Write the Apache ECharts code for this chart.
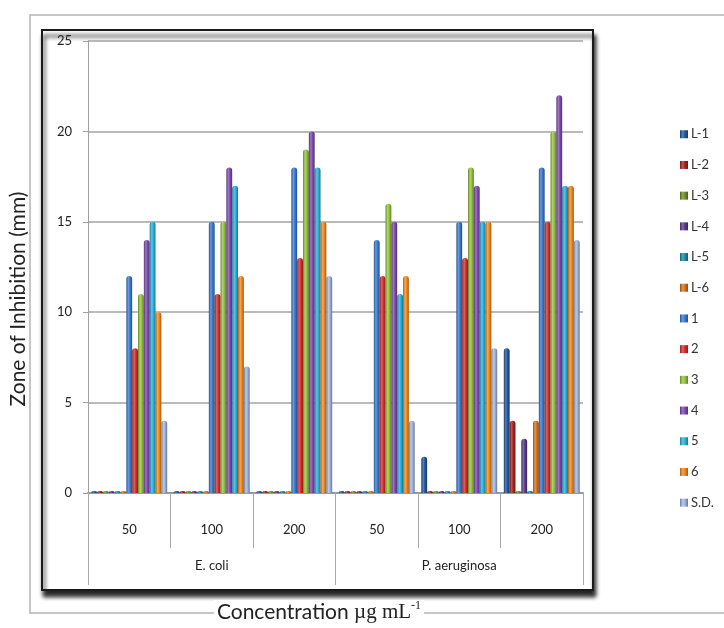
<!DOCTYPE html>
<html>
<head>
<meta charset="utf-8">
<script src="https://cdn.jsdelivr.net/npm/echarts@6/dist/echarts.min.js"></script>
<style>
html,body{margin:0;padding:0;background:#fff;}
#chart{width:724px;height:628px;}
</style>
</head>
<body>
<div id="chart"></div>
<script>
const concentrations = ['50','100','200','50','100','200'];
const organisms = ['E. coli','P. aeruginosa'];
const seriesNames = ['L-1','L-2','L-3','L-4','L-5','L-6','1','2','3','4','5','6','S.D.'];
const L1 = [0,0,0,0,2,8];
const L2 = [0,0,0,0,0,4];
const L3 = [0,0,0,0,0,0];
const L4 = [0,0,0,0,0,3];
const L5 = [0,0,0,0,0,0];
const L6 = [0,0,0,0,0,4];
const C1 = [12,15,18,14,15,18];
const C2 = [8,11,13,12,13,15];
const C3 = [11,15,19,16,18,20];
const C4 = [14,18,20,15,17,22];
const C5 = [15,17,18,11,15,17];
const C6 = [10,12,15,12,15,17];
const SD = [4,7,12,4,8,14];
const yTicks = [0,5,10,15,20,25];

const seriesData = [L1,L2,L3,L4,L5,L6,C1,C2,C3,C4,C5,C6,SD];
const colors = ['#23589e','#a8231f','#6f8f2a','#5b3a8a','#1e89a8','#da7418',
                '#3a7ad2','#d6302b','#95c43d','#7f4bb0','#2cb2de','#f58a1c','#a2b6de'];

function shade(hex, f){
  const n = parseInt(hex.slice(1),16);
  let r=(n>>16)&255,g=(n>>8)&255,b=n&255;
  if(f<0){r=r*(1+f);g=g*(1+f);b=b*(1+f);} else {r=r+(255-r)*f;g=g+(255-g)*f;b=b+(255-b)*f;}
  return 'rgb('+Math.round(r)+','+Math.round(g)+','+Math.round(b)+')';
}
function grad(c){
  return new echarts.graphic.LinearGradient(0,0,1,0,[
    {offset:0,color:shade(c,-0.3)},
    {offset:0.35,color:shade(c,0.25)},
    {offset:0.6,color:c},
    {offset:1,color:shade(c,-0.35)}
  ]);
}

const chart = echarts.init(document.getElementById('chart'));
const font = 'Lato, "Open Sans", sans-serif';

const series = seriesNames.map((name,i)=>({
  name:name,
  type:'bar',
  xAxisIndex:0,
  data:seriesData[i],
  barGap:'0%',
  barCategoryGap:'8%',
  barMinHeight:2,
  itemStyle:{color:grad(colors[i]),borderRadius:[3,3,0,0]},
  emphasis:{disabled:true}
}));

chart.setOption({
  animation:false,
  color:colors,
  grid:{left:88,right:141,top:41,bottom:135,containLabel:false},
  legend:{
    orient:'vertical',
    left:675,
    top:122,
    itemWidth:8,
    itemHeight:8,
    itemGap:16.2,
    icon:'rect',
    textStyle:{fontFamily:font,fontSize:13,color:'#333',padding:[0,0,0,-2],lineHeight:14.5},
    data:seriesNames
  },
  xAxis:[{
    type:'category',
    data:concentrations,
    position:'bottom',
    axisLine:{show:true,lineStyle:{color:'#9a9a9a',width:2}},
    axisTick:{show:true,length:55,lineStyle:{color:'#a8a8a8',width:1}},
    axisLabel:{margin:30,fontFamily:font,fontSize:13,color:'#222'},
    splitLine:{show:false}
  },{
    type:'category',
    data:organisms,
    position:'bottom',
    axisLine:{show:false},
    axisTick:{show:true,length:92,lineStyle:{color:'#a8a8a8',width:1}},
    axisLabel:{margin:66,fontFamily:font,fontSize:13,color:'#222'},
    splitLine:{show:false}
  }],
  yAxis:{
    type:'value',
    min:yTicks[0],
    max:yTicks[yTicks.length-1],
    interval:5,
    axisLine:{show:true,lineStyle:{color:'#a0a0a0',width:1}},
    axisTick:{show:true,length:5,lineStyle:{color:'#a0a0a0'}},
    axisLabel:{margin:16,fontFamily:font,fontSize:13,color:'#222'},
    splitLine:{show:true,lineStyle:{color:'#a3a3a3',width:1.5}}
  },
  graphic:[
    {type:'rect',z:-20,silent:true,shape:{x:30,y:15,width:720,height:598},
     style:{fill:'#fff',stroke:'#b4b4b4',lineWidth:1.5}},
    {type:'rect',z:-15,silent:true,shape:{x:42,y:30,width:551,height:560},
     style:{fill:'#fff',stroke:'#1a1a1a',lineWidth:2,shadowColor:'rgba(0,0,0,0.85)',shadowBlur:4,shadowOffsetX:2,shadowOffsetY:6}},
    {type:'text',z:50,silent:true,x:8,y:299,rotation:Math.PI/2,
     style:{text:'Zone of Inhibition (mm)',fontFamily:font,fontSize:21,fill:'#222',
       align:'center',verticalAlign:'top',backgroundColor:'#fff',padding:[0,4]}},
    {type:'text',z:50,silent:true,x:319,y:612,
     style:{text:'{a|Concentration }{b|µg mL}{c|-1}',align:'center',verticalAlign:'middle',
       backgroundColor:'#fff',padding:[0,3],
       rich:{
         a:{fontFamily:font,fontSize:21,fill:'#222'},
         b:{fontFamily:'"Liberation Serif", serif',fontSize:21,fill:'#222'},
         c:{fontFamily:'"Liberation Serif", serif',fontSize:12,fill:'#222',verticalAlign:'top',padding:[0,0,12,0]}
       }}}
  ],
  series:series
});
</script>
</body>
</html>
